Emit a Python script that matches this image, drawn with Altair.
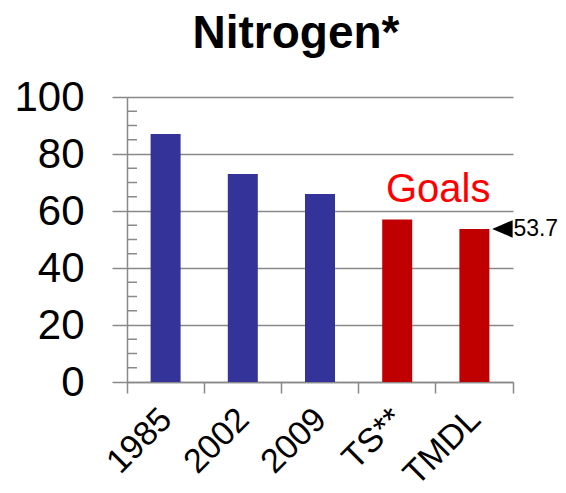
import altair as alt
import pandas as pd

categories = ["1985", "2002", "2009", "TS**", "TMDL"]
values = [87, 73, 66, 57, 53.7]
kinds = ["Measured", "Measured", "Measured", "Goal", "Goal"]
kind_names = ["Measured", "Goal"]
kind_colors = ["#333399", "#C00000"]
y_major = [0, 20, 40, 60, 80, 100]
minor_ticks = [5, 10, 15, 25, 30, 35, 45, 50, 55, 65, 70, 75, 85, 90, 95]
goal_text = ["Goals"]
goal_cat = ["TS**"]
goal_y = [63]
end_text = ["53.7"]
end_cat = ["TMDL"]
end_y = [53.7]

FONT = "Liberation Sans"
GRAY = "#898989"

df = pd.DataFrame({"cat": categories, "val": values, "kind": kinds})
minor_df = pd.DataFrame({"val": minor_ticks})
goal_df = pd.DataFrame({"cat": goal_cat, "val": goal_y, "t": goal_text})
end_df = pd.DataFrame({"cat": end_cat, "val": end_y, "t": end_text})

xscale = alt.Scale(domain=categories, paddingInner=0, paddingOuter=0)
yscale = alt.Scale(domain=[0, 100], nice=False)

x_axis = alt.Axis(
    labelAngle=-45, labelFontSize=34, labelFont=FONT, labelColor="black",
    labelAlign="right", labelBaseline="top",
    bandPosition=1, tickExtra=True, tickSize=11, tickColor=GRAY, tickWidth=1.5,
    domainColor=GRAY, domainWidth=1.5, grid=False, labelPadding=9, labelOffset=-11,
    title=None,
)
y_axis = alt.Axis(
    values=y_major, labelFontSize=42, labelFont=FONT, labelColor="black",
    tickSize=15, tickColor=GRAY, tickWidth=1.5, labelPadding=28,
    domainColor=GRAY, domainWidth=1.5, grid=True, gridColor=GRAY, gridWidth=1.5,
    gridOpacity=1, title=None,
)

bars = alt.Chart(df).mark_bar(size=30).encode(
    x=alt.X("cat:N", scale=xscale, axis=x_axis, sort=categories, title=None),
    y=alt.Y("val:Q", scale=yscale, axis=y_axis, title=None),
    color=alt.Color("kind:N", scale=alt.Scale(domain=kind_names, range=kind_colors), legend=None),
)

minor = alt.Chart(minor_df).mark_rule(color=GRAY, strokeWidth=1.5).encode(
    y=alt.Y("val:Q", scale=yscale, title=None),
    x=alt.value(0),
    x2=alt.value(10),
)

goals = alt.Chart(goal_df).mark_text(
    fontSize=40, font=FONT, color="#FF0000", align="center", baseline="alphabetic", dx=41
).encode(
    x=alt.X("cat:N", scale=xscale, sort=categories, title=None),
    y=alt.Y("val:Q", scale=yscale, title=None),
    text="t:N",
)

pointer = alt.Chart(end_df).mark_point(
    shape="M1,-0.85L-1,0L1,0.85Z", size=420, filled=True, color="black", opacity=1,
    strokeWidth=0, xOffset=28,
).encode(
    x=alt.X("cat:N", scale=xscale, sort=categories, title=None),
    y=alt.Y("val:Q", scale=yscale, title=None),
)

endlab = alt.Chart(end_df).mark_text(
    fontSize=23, font=FONT, color="black", align="left", baseline="middle", dx=39
).encode(
    x=alt.X("cat:N", scale=xscale, sort=categories, title=None),
    y=alt.Y("val:Q", scale=yscale, title=None),
    text="t:N",
)

chart = alt.layer(bars, minor, goals, pointer, endlab).properties(
    width=386, height=285,
    title=alt.TitleParams("Nitrogen*", fontSize=46, font=FONT, fontWeight="bold",
                          anchor="middle", frame="group", dx=-24, offset=-18,
                          baseline="alphabetic", color="black"),
    autosize=alt.AutoSizeParams(type="none"),
    padding={"left": 119, "top": 89, "right": 45, "bottom": 103},
).configure_view(stroke=None)

chart.save("out.html", embed_options={"renderer": "svg", "actions": False})
